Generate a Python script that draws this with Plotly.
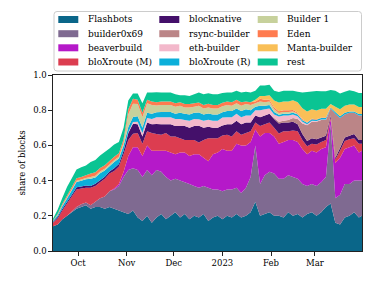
import plotly.graph_objects as go
import pandas as pd

dates = list(pd.date_range("2022-09-15", "2023-03-29", freq="3D").strftime("%Y-%m-%d")) + ["2023-03-31"]

flashbots = [.14,.15,.18,.20,.22,.24,.25,.26,.24,.25,.25,.24,.25,.24,.23,.22,
             .21,.23,.19,.17,.20,.16,.19,.21,.18,.20,
             .22,.19,.21,.18,.20,.19,.21,.17,.19,.20,
             .18,.20,.19,.21,.19,.20,.22,.28,.20,.21,
             .22,.20,.20,.19,.22,.20,.21,.19,.21,.22,
             .20,.22,.25,.27,.16,.15,.19,.20,.22,.19,
             .20]
builder0x69 = [0,0,0,0,.005,.01,.015,.015,.02,.03,.05,.07,.09,.11,.14,.20,
               .25,.24,.27,.25,.26,.27,.27,.24,.24,.20,
               .19,.21,.18,.20,.17,.17,.16,.19,.16,.15,
               .16,.15,.16,.15,.14,.16,.20,.32,.18,.22,
               .23,.24,.21,.22,.21,.22,.20,.19,.16,.16,
               .17,.17,.17,.45,.14,.17,.19,.18,.18,.21,
               .20]
beaverbuild = [0,0,0,0,0,0,0,0,0,0,0,0,0,.005,.01,.03,
               .08,.12,.13,.12,.14,.14,.11,.12,.15,.16,
               .14,.16,.17,.16,.18,.19,.16,.15,.20,.21,
               .24,.22,.22,.25,.27,.24,.20,.09,.27,.24,
               .22,.21,.20,.21,.20,.21,.21,.20,.18,.19,
               .19,.19,.17,.03,.20,.21,.20,.21,.20,.16,
               .17]
bloxroute_m = [.02,.035,.05,.07,.085,.10,.09,.085,.10,.09,.09,.10,.10,.10,.10,.10,
               .09,.076,.08,.07,.08,.10,.095,.09,.10,.09,
               .10,.08,.07,.09,.08,.066,.10,.13,.09,.08,
               .076,.09,.08,.07,.06,.07,.06,.04,.06,.05,
               .06,.05,.057,.06,.05,.055,.06,.05,.045,.04,
               .045,.04,.04,.01,.02,.04,.045,.045,.04,.05,
               .04]
blocknative = [.005,.008,.01,.01,.01,.012,.012,.012,.01,.012,.012,.012,.012,.015,.015,.02,
               .04,.057,.05,.04,.05,.05,.057,.06,.05,.07,
               .06,.07,.08,.07,.08,.095,.07,.066,.06,.06,
               .057,.06,.07,.06,.06,.06,.05,.04,.05,.05,
               .05,.05,.057,.05,.05,.05,.04,.035,.03,.03,
               .03,.025,.025,.01,.01,.015,.02,.02,.025,.02,
               .02]
rsync = [0]*16 + [0]*30 + [0,.005,.01,.01,.015,.02,.03,.06,.09,.095,
                           .10,.10,.09,.04,.25,.17,.13,.13,.12,.14,
                           .14]
eth_builder = [0]*16 + [.005,.01,.015,.02,.025,.03,.038,.04,.04,.04,
                        .04,.04,.035,.04,.04,.038,.04,.04,.04,.04,
                        .045,.04,.04,.04,.04,.04,.04,.03,.04,.035,
                        .03,.02,.03,.03,.025,.02,.015,.01,.005,.005,
                        .003,.002,.002,0,0,0,0,0,0,0,
                        0]
bloxroute_r = [.005,.01,.015,.02,.025,.03,.032,.035,.04,.035,.04,.035,.03,.035,.03,.03,
               .03,.028,.03,.03,.03,.03,.028,.03,.03,.03,
               .03,.035,.035,.035,.035,.038,.035,.035,.035,.035,
               .03,.035,.035,.03,.035,.035,.03,.02,.025,.02,
               .02,.015,.01,.01,.01,.01,.01,.008,.008,.008,
               .008,.008,.008,.005,.01,.01,.01,.008,.008,.008,
               .008]
builder1 = [0,.003,.005,.005,.006,.007,.007,.008,.01,.01,.01,.01,.01,.01,.01,.015,
            .07,.076,.07,.06,.055,.05,.038,.04,.04,.04,
            .04,.04,.035,.04,.035,.038,.035,.035,.035,.035,
            .035,.035,.03,.03,.03,.03,.03,.02,.025,.02,
            .02,.015,.01,.01,.01,.008,.005,.003,.002,0,
            0,0,0,0,0,0,0,0,0,0,
            0]
eden = [.003,.005,.008,.01,.012,.014,.015,.016,.02,.02,.02,.02,.02,.02,.02,.02,
        .03,.028,.025,.025,.02,.02,.019,.02,.02,.02,
        .02,.02,.02,.02,.02,.019,.02,.02,.02,.02,
        .02,.02,.02,.02,.02,.015,.015,.01,.015,.015,
        .01,.01,.01,.01,.01,.008,.005,.005,.003,.003,
        .003,.003,.003,0,0,0,0,0,0,0,
        0]
manta = [0]*16 + [0]*10 + [0]*10 + [0,0,0,0,0,0,0,.01,.015,.02,
                                    .025,.04,.05,.05,.05,.055,.06,.06,.06,.055,
                                    .05,.05,.05,.02,.03,.04,.04,.04,.04,.04,
                                    .04]
rest = [.01,.025,.035,.05,.05,.05,.055,.055,.065,.07,.07,.075,.07,.07,.065,.065,
        .05,.03,.035,.055,.04,.05,.057,.05,.05,.05,
        .05,.04,.05,.045,.05,.057,.06,.06,.06,.06,
        .055,.05,.055,.05,.055,.055,.055,.05,.06,.06,
        .06,.055,.06,.06,.06,.055,.06,.09,.11,.10,
        .11,.10,.10,.08,.09,.09,.08,.08,.075,.08,
        .08]

names = ["Flashbots", "builder0x69", "beaverbuild", "bloXroute (M)",
         "blocknative", "rsync-builder", "eth-builder", "bloXroute (R)",
         "Builder 1", "Eden", "Manta-builder", "rest"]
values = [flashbots, builder0x69, beaverbuild, bloxroute_m,
          blocknative, rsync, eth_builder, bloxroute_r,
          builder1, eden, manta, rest]
colors = ["#0a6689", "#7f6a91", "#b519c9", "#dc3d50",
          "#44106a", "#bb8587", "#f3b8cb", "#0bafda",
          "#c7d19c", "#ff7b4f", "#f9bf57", "#0ac493"]

tick_vals = ["2022-10-01", "2022-11-01", "2022-12-01", "2023-01-01", "2023-02-01", "2023-03-01"]
tick_text = ["Oct", "Nov", "Dec", "2023", "Feb", "Mar"]

# layout constants (pixels)
FW, FH = 373, 283
ML, MR, MT, MB = 53, 11, 75, 32
PW, PH = FW - ML - MR, FH - MT - MB
font = "DejaVu Serif"


def to_paper(px, py):
    return (px - ML) / PW, (FH - MB - py) / PH


fig = go.Figure()
for name, vals, color in zip(names, values, colors):
    fig.add_trace(go.Scatter(
        x=dates, y=vals, name=name, mode="none", stackgroup="one",
        fillcolor=color, line=dict(width=0, color=color),
        hoverinfo="skip", showlegend=False,
    ))

# legend: rounded box with swatches and text, 3 columns x 4 rows
shapes = []
annotations = []
lx0, ly0 = to_paper(54, 11.5)
lx1, ly1 = to_paper(361.5, 71)
rx, ry = 3 / PW, 3 / PH
box_path = (f"M{lx0+rx},{ly0} L{lx1-rx},{ly0} Q{lx1},{ly0} {lx1},{ly0-ry} "
            f"L{lx1},{ly1+ry} Q{lx1},{ly1} {lx1-rx},{ly1} "
            f"L{lx0+rx},{ly1} Q{lx0},{ly1} {lx0},{ly1+ry} "
            f"L{lx0},{ly0-ry} Q{lx0},{ly0} {lx0+rx},{ly0} Z")
shapes.append(dict(type="path", xref="paper", yref="paper", path=box_path,
                   line=dict(color="#cccccc", width=1), fillcolor="white", layer="above"))
col_x = [58.3, 159.3, 257.7]
row_y = [19.5, 33.7, 47.8, 62.0]
sw_w, sw_h, text_off = 20, 7, 27.5
for i, (name, color) in enumerate(zip(names, colors)):
    c, r = i // 4, i % 4
    x0, yc = col_x[c], row_y[r]
    px0, py0 = to_paper(x0, yc - sw_h / 2)
    px1, py1 = to_paper(x0 + sw_w, yc + sw_h / 2)
    shapes.append(dict(type="rect", xref="paper", yref="paper", x0=px0, x1=px1, y0=py1, y1=py0,
                       line=dict(width=0), fillcolor=color, layer="above"))
    tx, ty = to_paper(x0 + text_off, yc)
    annotations.append(dict(text=name, xref="paper", yref="paper", x=tx, y=ty,
                            xanchor="left", yanchor="middle", showarrow=False,
                            font=dict(family=font, size=9, color="black")))

fig.update_layout(
    width=FW, height=FH,
    margin=dict(l=ML, r=MR, t=MT, b=MB, autoexpand=False),
    paper_bgcolor="white", plot_bgcolor="white",
    font=dict(family=font, size=9, color="black"),
    showlegend=False,
    shapes=shapes, annotations=annotations,
    xaxis=dict(
        range=["2022-09-15", "2023-03-31"], tickvals=tick_vals, ticktext=tick_text,
        showgrid=False, zeroline=False, showline=True, linecolor="#222222", linewidth=1.2,
        mirror=True, ticks="outside", ticklen=3.5, tickcolor="#222222",
        tickfont=dict(family=font, size=8.5),
    ),
    yaxis=dict(
        range=[0, 1], tickvals=[0, .2, .4, .6, .8, 1.0], tickformat=".1f",
        showgrid=False, zeroline=False, showline=True, linecolor="#222222", linewidth=1.2,
        mirror=True, ticks="outside", ticklen=3.5, tickcolor="#222222",
        tickfont=dict(family=font, size=8.5),
        title=dict(text="share of blocks", font=dict(family=font, size=8.5), standoff=6),
    ),
)

fig.write_html("out.html", config={"displayModeBar": False},
               post_script="document.body.style.margin='0';")
